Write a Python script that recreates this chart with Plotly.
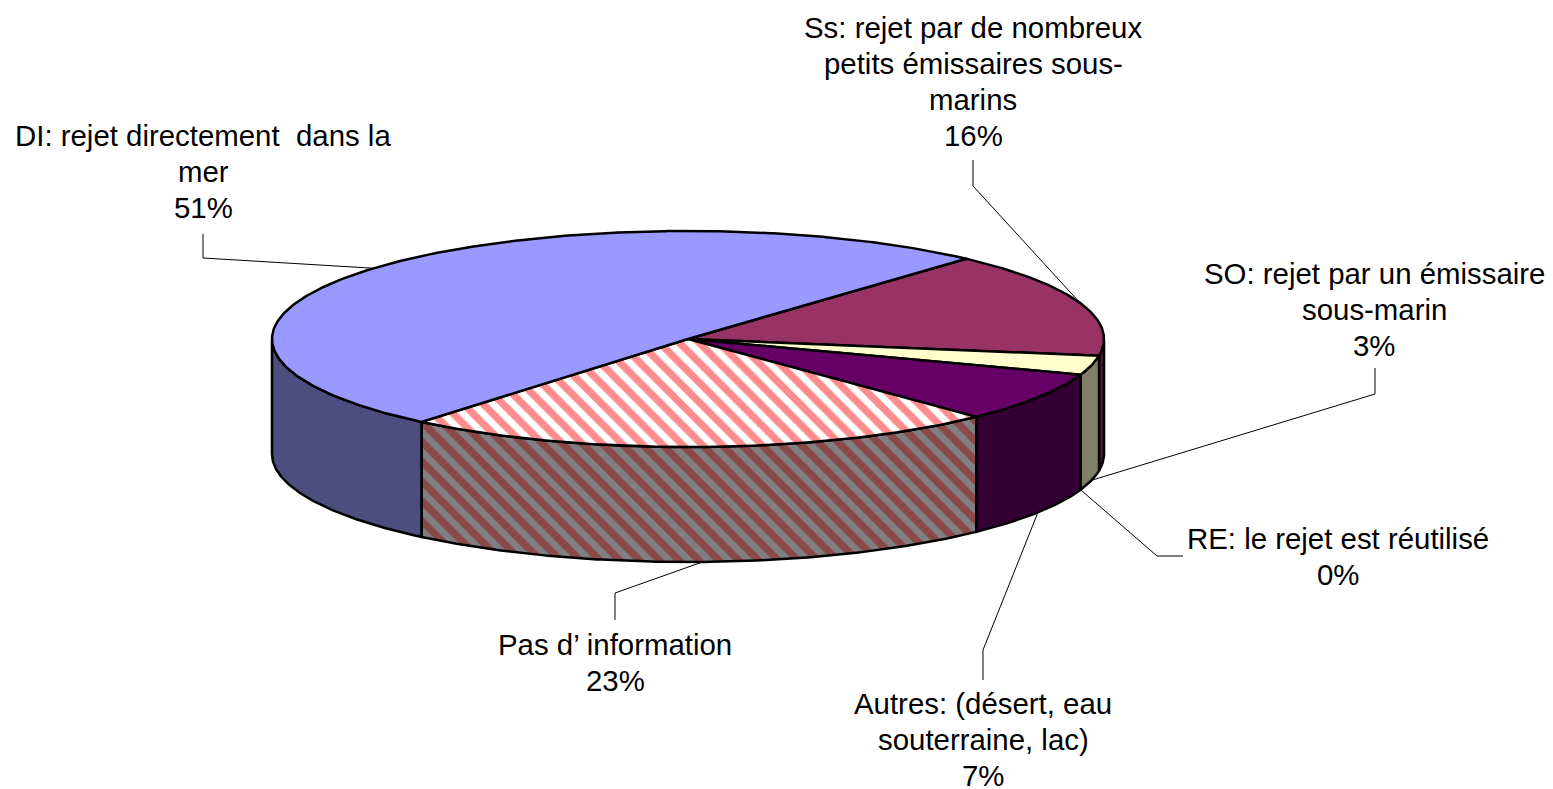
import numpy as np
import plotly.graph_objects as go

# ---- data (order: clockwise from the first slice) ----
categories = ["Ss", "SO", "RE", "Autres", "Pas", "DI"]
values = [15.8, 2.9, 0.0, 7.45, 23.25, 50.6]
top_colors = ["#993366", "#FFFFCC", "#CCFFFF", "#660066", "#FFFFFF", "#9999FF"]
side_colors = ["#4D1A33", "#808066", "#668080", "#330033", "#808080", "#4D4D80"]
label_lines = {
    "Ss": ["Ss: rejet par de nombreux", "petits émissaires sous-", "marins"],
    "SO": ["SO: rejet par un émissaire", "sous-marin"],
    "RE": ["RE: le rejet est réutilisé"],
    "Autres": ["Autres: (désert, eau", "souterraine, lac)"],
    "Pas": ["Pas d’ information"],
    "DI": ["DI: rejet directement\u00a0 dans la", "mer"],
}

# ---- pie geometry (layout only) ----
W, H = 1553, 789
CX, CY, RX, RY, DEPTH = 688, 339, 416, 108, 115
START_DEG = 42
FONT = "Liberation Sans, Arial, sans-serif"
FONT_SIZE = 29.4
LINE_STEP = 36.3
label_layout = {
    "Ss": dict(x=973, y=27, elbow=[(973, 160), (973, 186)], side=False),
    "SO": dict(x=1374, y=273, elbow=[(1375, 368), (1375, 394)], side=True),
    "RE": dict(x=1338, y=538, elbow=[(1183, 556), (1157, 556)], side=True),
    "Autres": dict(x=983, y=703, elbow=[(983, 680), (983, 650)], side=True),
    "Pas": dict(x=615, y=644, elbow=[(615, 620), (615, 593)], side=True),
    "DI": dict(x=203, y=135, elbow=[(203, 234), (203, 258)], side=False),
}
patterns = {
    "Pas": dict(top=dict(shape="\\", bgcolor="#FFFFFF", fgcolor="#FF8C8C", size=14, solidity=0.52, fgopacity=1),
                side=dict(shape="\\", bgcolor="#808080", fgcolor="#8A4848", size=14, solidity=0.52, fgopacity=1)),
}


def point(deg, drop=0.0):
    t = np.radians(deg)
    return CX + RX * np.sin(t), CY - RY * np.cos(t) + drop


fig = go.Figure()
edges = START_DEG + np.concatenate([[0], np.cumsum(values)]) * 3.6

for i, cat in enumerate(categories):
    a0, a1 = edges[i], edges[i + 1]
    lo, hi = max(a0, 90), min(a1, 270)
    if hi <= lo:
        continue
    ang = np.linspace(lo, hi, max(int((hi - lo) * 2), 2))
    xt, yt = point(ang)
    xb, yb = point(ang[::-1], DEPTH)
    kw = dict(fillcolor=side_colors[i])
    if cat in patterns:
        kw["fillpattern"] = patterns[cat]["side"]
    fig.add_trace(go.Scatter(x=np.r_[xt, xb, xt[0]], y=np.r_[yt, yb, yt[0]], mode="lines", fill="toself",
                             line=dict(color="black", width=2.5), hoverinfo="skip", showlegend=False, **kw))

for i, cat in enumerate(categories):
    a0, a1 = edges[i], edges[i + 1]
    if a1 <= a0:
        continue
    ang = np.linspace(a0, a1, max(int((a1 - a0) * 2), 2))
    xt, yt = point(ang)
    kw = dict(fillcolor=top_colors[i])
    if cat in patterns:
        kw["fillpattern"] = patterns[cat]["top"]
    fig.add_trace(go.Scatter(x=np.r_[CX, xt, CX], y=np.r_[CY, yt, CY], mode="lines", fill="toself",
                             line=dict(color="black", width=2.5), hoverinfo="skip", showlegend=False, **kw))

annotations = []
for i, cat in enumerate(categories):
    lay = label_layout[cat]
    mid = (edges[i] + edges[i + 1]) / 2
    ax, ay = point(mid, DEPTH if lay["side"] else 0)
    xs = [p[0] for p in lay["elbow"]] + [ax]
    ys = [p[1] for p in lay["elbow"]] + [ay]
    fig.add_trace(go.Scatter(x=xs, y=ys, mode="lines", line=dict(color="black", width=1),
                             hoverinfo="skip", showlegend=False))
    lines = label_lines[cat] + [f"{round(values[i])}%"]
    for k, txt in enumerate(lines):
        annotations.append(dict(x=lay["x"], y=lay["y"] + k * LINE_STEP, xref="x", yref="y", text=txt,
                                showarrow=False, xanchor="center", yanchor="middle",
                                font=dict(family=FONT, size=FONT_SIZE, color="black")))

fig.update_layout(
    width=W, height=H, margin=dict(l=0, r=0, t=0, b=0),
    paper_bgcolor="white", plot_bgcolor="white", showlegend=False,
    xaxis=dict(range=[0, W], visible=False, fixedrange=True),
    yaxis=dict(range=[H, 0], visible=False, fixedrange=True),
    annotations=annotations,
)
fig.write_html("out.html", config={"displayModeBar": False},
               post_script="document.body.style.margin='0';document.body.style.overflow='hidden';")
